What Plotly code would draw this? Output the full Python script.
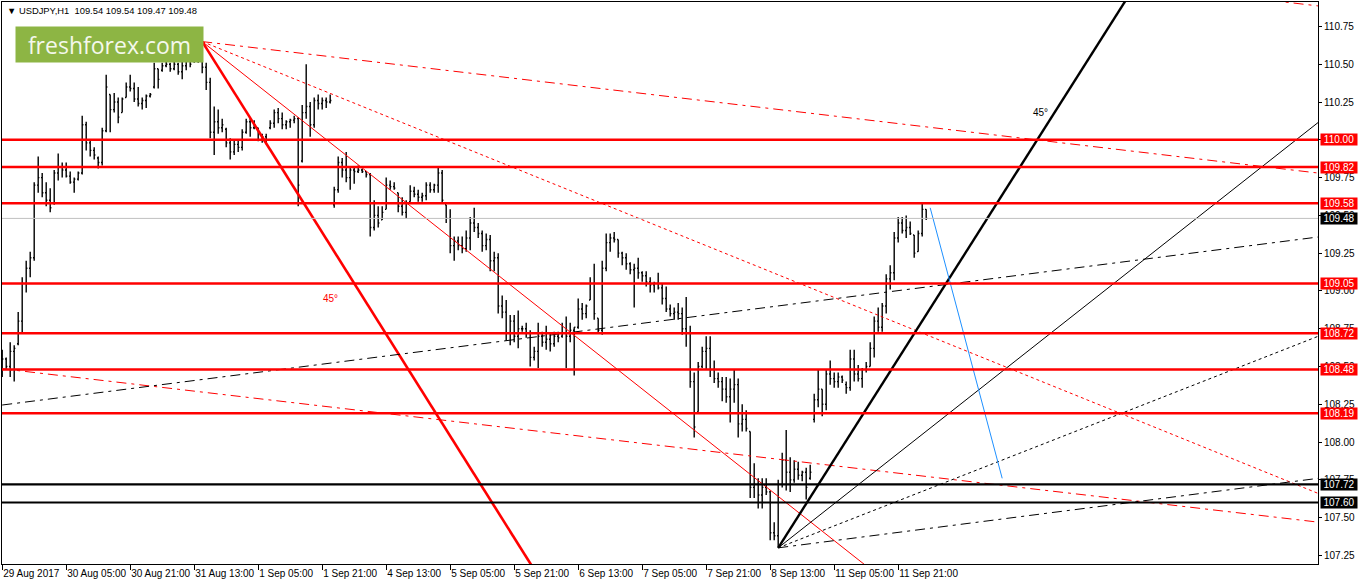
import plotly.graph_objects as go

# ---------------- data ----------------
tick_bars = [0, 16, 32, 48, 64, 80, 96, 112, 128, 144, 160, 176, 192, 208, 224]
tick_labels = ["29 Aug 2017", "30 Aug 05:00", "30 Aug 21:00", "31 Aug 13:00", "1 Sep 05:00",
               "1 Sep 21:00", "4 Sep 13:00", "5 Sep 05:00", "5 Sep 21:00", "6 Sep 13:00",
               "7 Sep 05:00", "7 Sep 21:00", "8 Sep 13:00", "11 Sep 05:00", "11 Sep 21:00"]

highs = [108.61,108.56,108.66,108.64,108.86,109.09,109.20,109.26,109.72,109.89,
         109.78,109.72,109.68,109.80,109.91,109.85,109.85,109.79,109.75,109.79,
         110.16,110.12,110.00,109.95,109.89,110.08,110.43,110.30,110.31,110.28,
         110.28,110.38,110.43,110.38,110.35,110.28,110.30,110.31,110.51,110.47,
         110.51,110.54,110.51,110.54,110.51,110.53,110.54,110.54,110.54,110.56,
         110.65,110.51,110.41,110.22,110.20,110.14,110.08,110.01,110.00,110.00,
         110.07,110.14,110.15,110.13,110.08,110.04,110.04,110.13,110.20,110.21,
         110.18,110.13,110.14,110.16,110.15,110.23,110.50,110.25,110.28,110.30,
         110.28,110.28,110.30,109.69,109.89,109.88,109.92,109.82,109.82,109.83,
         109.81,109.79,109.78,109.60,109.56,109.56,109.75,109.73,109.72,109.65,
         109.62,109.60,109.70,109.69,109.67,109.65,109.72,109.72,109.71,109.82,
         109.80,109.57,109.54,109.36,109.36,109.36,109.40,109.49,109.55,109.45,
         109.40,109.38,109.37,109.26,109.25,108.97,108.94,108.84,108.84,108.87,
         108.77,108.79,108.74,108.63,108.79,108.73,108.77,108.72,108.73,108.73,
         108.79,108.83,108.79,108.76,108.95,108.92,108.91,109.09,109.18,108.82,
         109.20,109.38,109.38,109.39,109.34,109.26,109.25,109.19,109.18,109.22,
         109.13,109.13,109.09,109.06,109.12,109.05,109.03,108.91,108.89,108.92,
         108.89,108.96,108.77,108.46,108.53,108.63,108.70,108.70,108.54,108.46,
         108.43,108.43,108.42,108.48,108.42,108.25,108.21,108.07,107.86,107.76,
         107.76,107.76,107.68,107.47,107.75,107.93,108.08,107.90,107.88,107.87,
         107.81,107.83,107.85,108.32,108.48,108.35,108.48,108.54,108.46,108.46,
         108.44,108.40,108.61,108.61,108.51,108.49,108.53,108.66,108.83,108.89,
         108.92,109.11,109.17,109.39,109.49,109.49,109.50,109.46,109.37,109.40,
         109.58,109.54]

lows = [108.43,108.48,108.43,108.40,108.64,108.72,108.99,109.09,109.20,109.65,
        109.62,109.56,109.52,109.57,109.73,109.75,109.75,109.71,109.65,109.73,
        109.77,109.93,109.89,109.87,109.81,109.83,110.05,110.05,110.18,110.11,
        110.18,110.28,110.32,110.25,110.22,110.20,110.21,110.28,110.34,110.34,
        110.45,110.48,110.45,110.46,110.43,110.40,110.46,110.48,110.51,110.51,
        110.44,110.33,110.01,109.90,110.04,110.05,109.95,109.87,109.90,109.92,
        109.93,110.04,110.02,110.07,109.99,109.98,109.97,110.07,110.08,110.11,
        110.07,110.07,110.08,110.11,109.56,109.85,110.14,110.02,110.08,110.20,
        110.20,110.21,110.24,109.55,109.65,109.75,109.72,109.67,109.71,109.78,
        109.78,109.75,109.36,109.40,109.42,109.47,109.54,109.67,109.67,109.52,
        109.50,109.48,109.59,109.62,109.59,109.59,109.60,109.65,109.65,109.65,
        109.58,109.45,109.25,109.20,109.27,109.25,109.26,109.27,109.39,109.35,
        109.26,109.27,109.13,109.13,108.85,108.82,108.67,108.64,108.66,108.62,
        108.73,108.69,108.50,108.54,108.49,108.63,108.61,108.60,108.63,108.66,
        108.69,108.49,108.66,108.44,108.75,108.81,108.82,108.94,108.81,108.72,
        108.71,109.13,109.26,109.32,109.22,109.17,109.14,109.11,108.89,109.08,
        109.06,109.03,108.99,108.99,109.01,108.91,108.86,108.83,108.81,108.81,
        108.71,108.63,108.36,108.03,108.20,108.49,108.48,108.43,108.39,108.36,
        108.27,108.26,108.13,108.26,108.03,108.07,108.07,107.63,107.63,107.56,
        107.56,107.65,107.35,107.35,107.30,107.70,107.68,107.67,107.73,107.75,
        107.74,107.62,107.75,108.13,108.23,108.17,108.21,108.38,108.36,108.36,
        108.39,108.32,108.34,108.40,108.40,108.36,108.46,108.50,108.56,108.73,
        108.73,108.85,109.01,109.07,109.32,109.38,109.35,109.37,109.22,109.26,
        109.36,109.47]

opens = [108.50,108.55,108.50,108.60,108.65,108.80,109.05,109.15,109.22,109.70,
         109.75,109.65,109.60,109.58,109.78,109.82,109.80,109.76,109.72,109.74,
         109.78,110.10,109.98,109.93,109.88,109.85,110.06,110.30,110.20,110.25,
         110.18,110.28,110.35,110.34,110.27,110.24,110.26,110.29,110.35,110.47,
         110.46,110.49,110.50,110.47,110.50,110.45,110.49,110.52,110.52,110.53,
         110.55,110.48,110.38,110.05,110.12,110.08,110.07,109.98,109.92,109.97,
         109.95,110.05,110.12,110.08,110.08,110.00,110.02,110.08,110.11,110.18,
         110.14,110.10,110.12,110.13,110.14,109.86,110.18,110.22,110.10,110.26,
         110.24,110.26,110.25,109.57,109.67,109.85,109.80,109.75,109.80,109.79,
         109.80,109.79,109.77,109.42,109.50,109.47,109.54,109.70,109.69,109.65,
         109.56,109.52,109.59,109.66,109.64,109.62,109.63,109.70,109.67,109.70,
         109.78,109.57,109.48,109.30,109.33,109.30,109.28,109.35,109.45,109.42,
         109.38,109.30,109.34,109.20,109.22,108.90,108.86,108.72,108.80,108.70,
         108.75,108.75,108.72,108.56,108.60,108.70,108.66,108.68,108.65,108.70,
         108.70,108.72,108.70,108.74,108.76,108.88,108.85,108.94,109.05,108.82,
         108.74,109.15,109.32,109.35,109.34,109.25,109.22,109.18,109.14,109.15,
         109.12,109.10,109.06,109.04,109.05,109.02,108.95,108.88,108.85,108.86,
         108.85,108.75,108.72,108.40,108.20,108.50,108.60,108.62,108.48,108.42,
         108.40,108.35,108.30,108.35,108.38,108.12,108.15,108.07,107.70,107.72,
         107.65,107.70,107.67,107.40,107.38,107.72,107.88,107.80,107.75,107.82,
         107.78,107.80,107.76,108.15,108.28,108.35,108.25,108.45,108.42,108.40,
         108.43,108.38,108.36,108.55,108.45,108.42,108.48,108.50,108.62,108.80,
         108.76,108.90,109.08,109.12,109.35,109.45,109.40,109.42,109.37,109.26,
         109.38,109.54]

closes = [108.55,108.50,108.60,108.62,108.80,109.05,109.15,109.22,109.70,109.75,
          109.65,109.60,109.55,109.78,109.82,109.80,109.76,109.72,109.74,109.78,
          110.10,109.98,109.93,109.90,109.85,110.06,110.35,110.20,110.25,110.15,
          110.27,110.35,110.34,110.27,110.24,110.26,110.29,110.30,110.47,110.40,
          110.49,110.50,110.47,110.50,110.45,110.49,110.52,110.50,110.53,110.55,
          110.48,110.38,110.05,110.12,110.08,110.10,109.98,109.92,109.97,109.95,
          110.05,110.12,110.08,110.10,110.00,110.02,110.00,110.11,110.18,110.14,
          110.10,110.12,110.13,110.14,109.70,110.18,110.22,110.10,110.26,110.24,
          110.26,110.25,110.26,109.67,109.85,109.80,109.75,109.80,109.79,109.80,
          109.79,109.77,109.42,109.50,109.45,109.52,109.70,109.69,109.68,109.56,
          109.52,109.58,109.66,109.64,109.62,109.63,109.70,109.67,109.70,109.78,
          109.60,109.48,109.30,109.33,109.30,109.28,109.35,109.45,109.42,109.38,
          109.30,109.34,109.20,109.22,108.90,108.86,108.72,108.80,108.70,108.75,
          108.75,108.72,108.56,108.60,108.70,108.66,108.68,108.65,108.70,108.69,
          108.72,108.70,108.74,108.76,108.88,108.85,108.90,109.05,108.85,108.74,
          109.15,109.32,109.35,109.34,109.25,109.22,109.18,109.14,109.15,109.12,
          109.10,109.06,109.04,109.05,109.02,108.95,108.88,108.85,108.86,108.85,
          108.75,108.72,108.40,108.10,108.50,108.60,108.62,108.48,108.42,108.40,
          108.35,108.30,108.35,108.38,108.12,108.15,108.09,107.70,107.72,107.65,
          107.70,107.67,107.40,107.38,107.72,107.88,107.80,107.75,107.82,107.78,
          107.80,107.70,107.80,108.28,108.35,108.25,108.45,108.42,108.40,108.43,
          108.41,108.36,108.55,108.45,108.42,108.48,108.50,108.62,108.80,108.76,
          108.90,109.08,109.12,109.35,109.45,109.40,109.42,109.38,109.25,109.38,
          109.54,109.48]

# horizontal levels
red_levels = [110.00, 109.82, 109.58, 109.05, 108.72, 108.48, 108.19]
black_levels = [107.72, 107.60]
bid_price = 109.48

# trend lines: [bar0, price0, bar1, price1]
red_gann_1x1 = [50, 110.65, 150, 106.44]
red_gann_1x2 = [50, 110.65, 250, 106.47]
red_dotted = [50, 110.65, 329, 107.66]
red_channel_mid = [50, 110.65, 329, 109.78]
red_channel_low = [0, 108.485, 329, 107.47]
red_channel_top = [300, 110.976, 329, 110.886]
black_rising = [0, 108.245, 329, 109.357]
fan_1x1 = [194, 107.30, 300, 111.72]
fan_1x2 = [194, 107.30, 329, 110.115]
fan_1x4 = [194, 107.30, 329, 108.70]
fan_flat = [194, 107.30, 329, 107.76]
blue_line = [232, 109.55, 250, 107.76]

angle_label_red = [82, 108.95]
angle_label_black = [259.5, 110.18]

title_text = "USDJPY,H1  109.54 109.54 109.47 109.48"

# ---------------- figure ----------------
FONT = "Liberation Sans, Arial, DejaVu Sans"
fig = go.Figure()

fig.add_trace(go.Ohlc(
    x=list(range(len(highs))), open=opens, high=highs, low=lows, close=closes,
    increasing=dict(line=dict(color="black", width=1.4)),
    decreasing=dict(line=dict(color="black", width=1.4)),
    tickwidth=0.3, hoverinfo="skip", showlegend=False))


def seg(pts, color, width, dash="solid"):
    fig.add_trace(go.Scatter(x=[pts[0], pts[2]], y=[pts[1], pts[3]], mode="lines",
                             line=dict(color=color, width=width, dash=dash),
                             hoverinfo="skip", showlegend=False))


seg(red_gann_1x1, "#FF0000", 2.6)
seg(red_gann_1x2, "#FF0000", 1)
seg(red_dotted, "#FF0000", 1, "3px,3px")
seg(red_channel_mid, "#FF0000", 1, "10px,5px,3px,5px")
seg(red_channel_low, "#FF0000", 1, "10px,5px,3px,5px")
seg(red_channel_top, "#FF0000", 1, "10px,5px,3px,5px")
seg(black_rising, "#000000", 1, "10px,5px,3px,5px")
seg(fan_1x1, "#000000", 2.4)
seg(fan_1x2, "#000000", 1)
seg(fan_1x4, "#000000", 1, "3px,3px")
seg(fan_flat, "#000000", 1, "10px,5px,3px,5px")
seg(blue_line, "#1E90FF", 1)

shapes = []
for lv in red_levels:
    shapes.append(dict(type="line", xref="paper", x0=0, x1=1, yref="y", y0=lv, y1=lv,
                       line=dict(color="#FF0000", width=2.5)))
for lv in black_levels:
    shapes.append(dict(type="line", xref="paper", x0=0, x1=1, yref="y", y0=lv, y1=lv,
                       line=dict(color="#000000", width=2.2)))
shapes.append(dict(type="line", xref="paper", x0=0, x1=1, yref="y", y0=bid_price, y1=bid_price,
                   line=dict(color="#C0C0C0", width=1)))

annotations = []


def level_label(v, bg):
    annotations.append(dict(xref="paper", x=1, yref="y", y=v, xanchor="left", yanchor="middle",
                            xshift=2, text=f"{v:.2f}", showarrow=False, bgcolor=bg,
                            width=36, height=11, borderpad=0,
                            font=dict(family=FONT, size=10, color="white")))


for lv in red_levels:
    level_label(lv, "#FF0000")
for lv in black_levels:
    level_label(lv, "#000000")
level_label(bid_price, "#000000")

annotations.append(dict(x=angle_label_red[0], y=angle_label_red[1], xref="x", yref="y",
                        text="45°", showarrow=False, font=dict(family=FONT, size=10, color="#FF0000")))
annotations.append(dict(x=angle_label_black[0], y=angle_label_black[1], xref="x", yref="y",
                        text="45°", showarrow=False, font=dict(family=FONT, size=10, color="#000000")))

# header text and logo
annotations.append(dict(xref="paper", yref="paper", x=0, y=1, xanchor="left", yanchor="top",
                        xshift=3, yshift=-1, showarrow=False,
                        text="▼ " + title_text,
                        font=dict(family=FONT, size=9.4, color="black")))
annotations.append(dict(xref="paper", yref="paper", x=0, y=1, xanchor="left", yanchor="top",
                        xshift=13, yshift=-24, showarrow=False, text="freshforex.com",
                        bgcolor="#8DB544", width=187, height=35, borderpad=0,
                        font=dict(family="Open Sans, DejaVu Sans", size=23, color="#F4F8EC")))

fig.update_layout(
    width=1358, height=584,
    margin=dict(l=2, r=40, t=2, b=20, autoexpand=False),
    paper_bgcolor="white", plot_bgcolor="white",
    shapes=shapes, annotations=annotations,
    font=dict(family=FONT, size=10, color="black"),
    xaxis=dict(range=[-0.05, 328.95], showgrid=False, zeroline=False,
               showline=True, linecolor="black", linewidth=1, mirror=True,
               ticks="outside", ticklen=5, tickcolor="black",
               tickvals=tick_bars, ticktext=tick_labels, tickangle=0,
               ticklabelposition="outside right", automargin=False,
               tickfont=dict(family=FONT, size=10, color="black"),
               rangeslider=dict(visible=False), fixedrange=True),
    yaxis=dict(range=[107.193, 110.912], side="right", showgrid=False, zeroline=False,
               showline=True, linecolor="black", linewidth=1, mirror=True,
               ticks="outside", ticklen=3, tickcolor="black", automargin=False,
               tick0=0, dtick=0.25, tickformat=".2f",
               tickfont=dict(family=FONT, size=10, color="black"), fixedrange=True),
)

fig.write_html("out.html", config={"displayModeBar": False},
               post_script="document.body.style.margin='0px';document.body.style.overflow='hidden';")
